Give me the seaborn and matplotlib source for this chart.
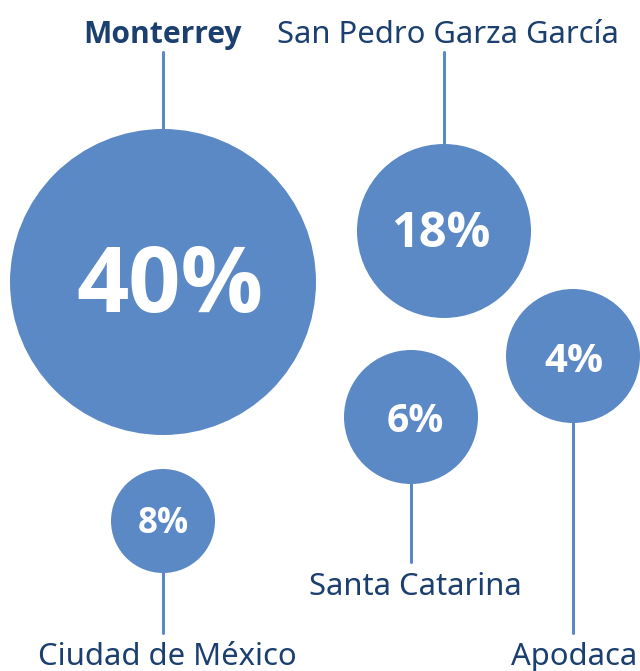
import pandas as pd
import matplotlib.pyplot as plt
import seaborn as sns

cities = ["Monterrey", "San Pedro Garza García", "Apodaca", "Santa Catarina", "Ciudad de México"]
shares = [40, 18, 4, 6, 8]

# layout in pixel coordinates of the 640x671 canvas
cx = [163, 444, 573, 411, 163]
cy = [282, 231, 356, 417, 521]
radius = [153, 87, 67, 67, 52]
pct_x = [170, 441, 574, 415, 163]
pct_base = [312, 247, 372, 432, 533]
pct_size = [66, 35, 29, 28, 25]
lab_x = [163, 448, 574, 415, 167]
lab_base = [43, 43, 665, 595, 665]
line_end = [52, 52, 633, 562, 633]
above = [True, True, False, False, False]

BUBBLE = "#5B89C6"
NAVY = "#1B3F6E"
BOLD = ["Open Sans", "DejaVu Sans"]

sns.set_theme(style="white")
plt.rcParams["font.family"] = ["Noto Sans", "DejaVu Sans"]

df = pd.DataFrame({"city": cities, "share": shares, "x": cx, "y": cy, "r": radius})
sizes = {c: (2 * r * 0.72) ** 2 for c, r in zip(cities, radius)}

fig = plt.figure(figsize=(6.4, 6.71), dpi=100)
ax = fig.add_axes([0, 0, 1, 1])
ax.set_xlim(0, 640)
ax.set_ylim(671, 0)

# connector lines
for i in range(len(cities)):
    start = cy[i] - radius[i] if above[i] else cy[i] + radius[i]
    ax.plot([cx[i], cx[i]], [start, line_end[i]], color=BUBBLE, lw=2.2, zorder=1)

sns.scatterplot(data=df, x="x", y="y", size="city", sizes=sizes, color=BUBBLE,
                linewidth=0, legend=False, ax=ax, zorder=2)

for i, c in enumerate(cities):
    ax.text(pct_x[i], pct_base[i], f"{shares[i]}%", color="white", fontsize=pct_size[i],
            family=BOLD, fontweight="bold", ha="center", va="baseline", zorder=3)
    if i == 0:
        ax.text(lab_x[i], lab_base[i], c, color=NAVY, fontsize=21.6,
                family=BOLD, fontweight="bold", ha="center", va="baseline")
    else:
        ax.text(lab_x[i], lab_base[i], c, color=NAVY, fontsize=22.3,
                ha="center", va="baseline")

ax.set_axis_off()
fig.savefig("out.png", dpi=100)
